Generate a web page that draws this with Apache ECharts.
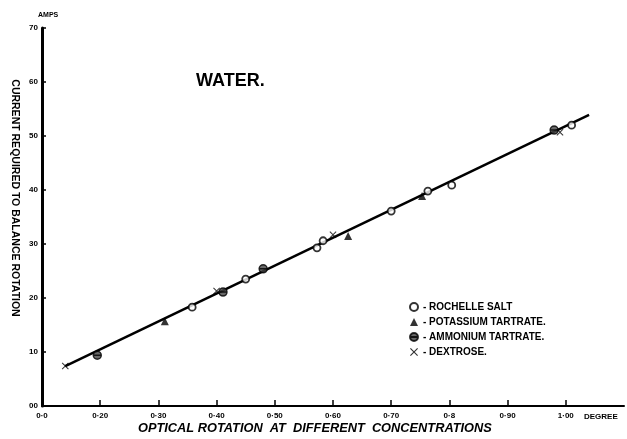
<!DOCTYPE html>
<html>
<head>
<meta charset="utf-8">
<script src="https://cdn.jsdelivr.net/npm/echarts@6/dist/echarts.min.js"></script>
<style>
html,body{margin:0;padding:0;background:#fff;}
#c{width:627px;height:439px;}
</style>
</head>
<body>
<div id="c"></div>
<script>
// ---- data ----
const xTickValues = [0.1, 0.2, 0.3, 0.4, 0.5, 0.6, 0.7, 0.8, 0.9, 1.0];
const xTickLabels = ["0·0", "0·20", "0·30", "0·40", "0·50", "0·60", "0·70", "0·8", "0·90", "1·00"];
const yTickLabels = ["00", "10", "20", "30", "40", "50", "60", "70"];

const rochelleX = [0.358, 0.45, 0.5725, 0.583, 0.70, 0.763, 0.804, 1.01];
const rochelleY = [18.3, 23.5, 29.3, 30.6, 36.1, 39.8, 40.9, 52.0];
const potassiumX = [0.311, 0.626, 0.753];
const potassiumY = [15.7, 31.5, 38.9];
const ammoniumX = [0.195, 0.411, 0.48, 0.98];
const ammoniumY = [9.4, 21.1, 25.4, 51.1];
const dextroseX = [0.14, 0.40, 0.60, 0.99];
const dextroseY = [7.4, 21.3, 31.7, 50.7];
const fitX = [0.14, 1.04];
const fitY = [7.4, 53.9];

const names = ["ROCHELLE SALT", "POTASSIUM TARTRATE.", "AMMONIUM TARTRATE.", "DEXTROSE."];

function pairs(xs, ys) { return xs.map((x, i) => [x, ys[i]]); }

const FONT = "Liberation Sans";
const chart = echarts.init(document.getElementById('c'), null, {renderer: 'canvas'});

const ammoniumIcon = 'path://M0,5 A5,5 0 1,1 10,5 A5,5 0 1,1 0,5 Z M0,5 L10,5';
const dextroseIcon = 'path://M0,1 L1,0 L5,4 L9,0 L10,1 L6,5 L10,9 L9,10 L5,6 L1,10 L0,9 L4,5 Z';

chart.setOption({
  animation: false,
  backgroundColor: '#fff',
  grid: {left: 42, right: 3, top: 28, bottom: 33},
  xAxis: {
    type: 'value', min: 0.1, max: 1.1,
    axisLine: {lineStyle: {color: '#000', width: 2}},
    axisTick: {inside: true, length: 6, lineStyle: {color: '#000', width: 1.5}, customValues: xTickValues},
    axisLabel: {
      customValues: xTickValues,
      formatter: v => xTickLabels[Math.round(v * 10) - 1] || '',
      color: '#000', fontFamily: FONT, fontWeight: 'bold', fontSize: 8, margin: 6
    },
    splitLine: {show: false}
  },
  yAxis: {
    type: 'value', min: 0, max: 70, interval: 10,
    axisLine: {lineStyle: {color: '#000', width: 3}},
    axisTick: {inside: true, length: 4, lineStyle: {color: '#000', width: 1.5}},
    axisLabel: {
      formatter: v => yTickLabels[Math.round(v / 10)],
      color: '#000', fontFamily: FONT, fontWeight: 'bold', fontSize: 8, margin: 4
    },
    splitLine: {show: false}
  },
  legend: {
    orient: 'vertical', left: 404, top: 297, itemGap: 5,
    itemWidth: 8, itemHeight: 8,
    formatter: n => '- ' + n,
    textStyle: {color: '#000', fontFamily: FONT, fontWeight: 'bold', fontSize: 10},
    data: names
  },
  graphic: [
    {type: 'text', left: 196, top: 72, style: {text: 'WATER.', fontFamily: FONT, fontWeight: 'bold', fontSize: 18, fill: '#000'}},
    {type: 'text', left: 38, top: 12, style: {text: 'AMPS', fontFamily: FONT, fontWeight: 'bold', fontSize: 7, fill: '#000'}},
    {type: 'text', left: 584, top: 413, style: {text: 'DEGREE', fontFamily: FONT, fontWeight: 'bold', fontSize: 8, fill: '#000'}},
    {type: 'text', x: 15, y: 198, rotation: -Math.PI / 2,
     style: {text: 'CURRENT REQUIRED TO BALANCE ROTATION', fontFamily: FONT, fontWeight: 'bold', fontSize: 10.5, fill: '#000', align: 'center', verticalAlign: 'middle'}},
    {type: 'text', left: 138, top: 422, style: {text: 'OPTICAL ROTATION  AT  DIFFERENT  CONCENTRATIONS', fontFamily: FONT, fontWeight: 'bold', fontStyle: 'italic', fontSize: 12.8, fill: '#000'}}
  ],
  series: [
    {
      type: 'line', data: pairs(fitX, fitY), showSymbol: false, symbol: 'none',
      lineStyle: {color: '#000', width: 2.5}, z: 1, silent: true, legendHoverLink: false
    },
    {
      name: names[0], type: 'scatter', data: pairs(rochelleX, rochelleY),
      symbol: 'circle', symbolSize: 7,
      itemStyle: {color: '#fff', borderColor: '#000', borderWidth: 1.8}, z: 3
    },
    {
      name: names[1], type: 'scatter', data: pairs(potassiumX, potassiumY),
      symbol: 'triangle', symbolSize: 8,
      itemStyle: {color: '#000'}, z: 3
    },
    {
      name: names[2], type: 'scatter', data: pairs(ammoniumX, ammoniumY),
      symbol: ammoniumIcon, symbolSize: 8,
      itemStyle: {color: '#444', borderColor: '#000', borderWidth: 1.5}, z: 3
    },
    {
      name: names[3], type: 'scatter', data: pairs(dextroseX, dextroseY),
      symbol: dextroseIcon, symbolSize: 7,
      itemStyle: {color: '#000'}, z: 3
    }
  ]
});
</script>
</body>
</html>
